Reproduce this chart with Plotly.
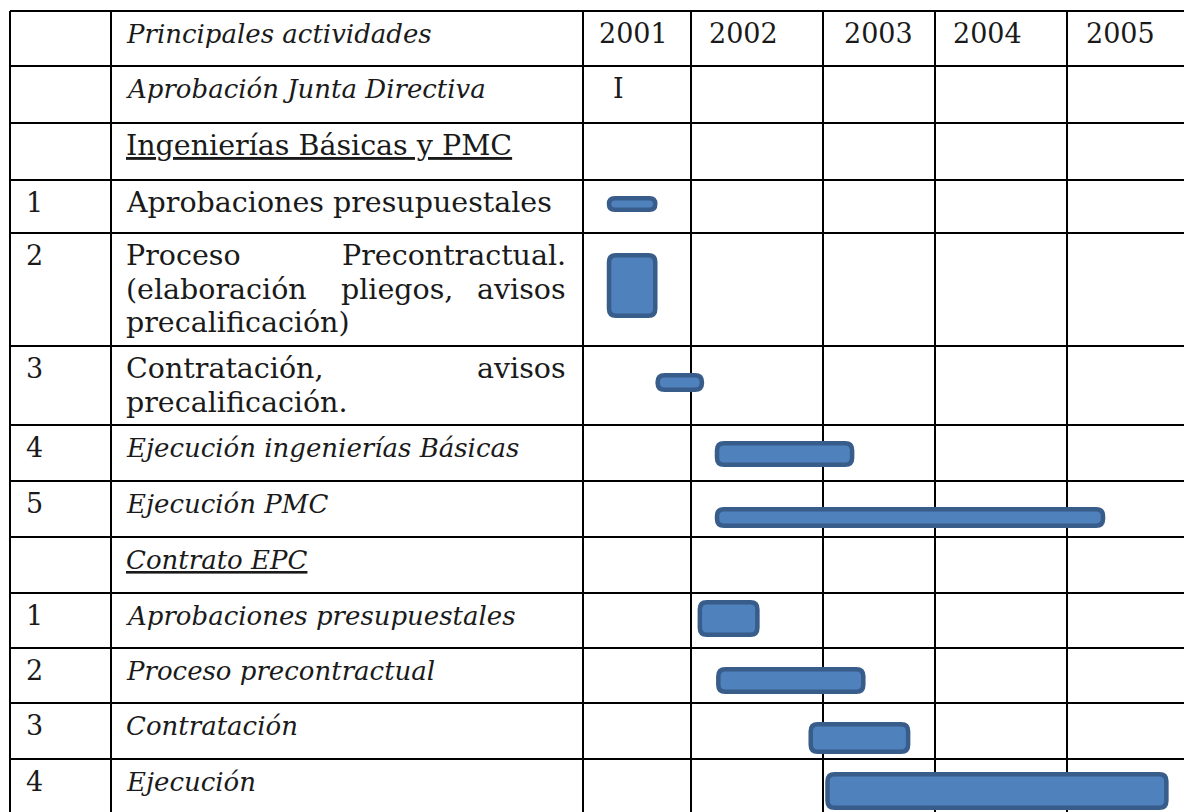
import plotly.graph_objects as go

# ---------------- data ----------------
years = ["2001", "2002", "2003", "2004", "2005"]
row_numbers = ["", "", "", "1", "2", "3", "4", "5", "", "1", "2", "3", "4"]
activities = [
    ["Principales actividades"],
    ["Aprobación Junta Directiva"],
    ["Ingenierías Básicas y PMC"],
    ["Aprobaciones presupuestales"],
    [["Proceso", "Precontractual."], ["(elaboración", "pliegos,", "avisos"], ["precalificación)"]],
    [["Contratación,", "avisos"], ["precalificación."]],
    ["Ejecución ingenierías Básicas"],
    ["Ejecución PMC"],
    ["Contrato EPC"],
    ["Aprobaciones presupuestales"],
    ["Proceso precontractual"],
    ["Contratación"],
    ["Ejecución"],
]
italic_rows = [0, 1, 6, 7, 8, 9, 10, 11, 12]
underline_rows = [2, 8]
milestone_row = 1
milestone_label = "I"
milestone_year = 2001.33

bar_rows = [3, 4, 5, 6, 7, 9, 10, 11, 12]
bar_start = [2001.22, 2001.22, 2001.67, 2002.18, 2002.18, 2002.05, 2002.19, 2002.89, 2003.02]
bar_end = [2001.69, 2001.69, 2002.10, 2003.28, 2005.29, 2002.52, 2003.38, 2003.78, 2005.77]

# ---------------- layout / style ----------------
W, H = 1192, 812
OFF = 8  # page body margin: data units == page pixels
row_edges = [11, 66, 123, 180, 233, 346, 425, 481, 537, 593, 648, 703, 759, 815]
col_edges = [10, 111, 583, 691, 823, 935, 1067, 1199]
bar_thickness = [16, 65, 19, 26, 21, 37, 27, 32, 38]
bar_center_off = [24, 52.5, 36.5, 29, 36.5, 25.5, 32.5, 35, 32]
year_text_off = [14, 16, 19, 16, 17]
FILL = "#4f81bd"
EDGE = "#385d8a"
FONT = "DejaVu Serif"
FS_REG = 28.5
FS_IT = 26
FS_NUM = 27
TXT = "#1a1a1a"
LINE_GAP = 33.5
first_line_off = 22.5


def year_to_x(v):
    k = int(v) - 2001
    frac = v - int(v)
    x0, x1 = col_edges[2 + k], col_edges[3 + k]
    return x0 + frac * (x1 - x0)


def rrect(x0, x1, y0, y1, r):
    r = min(r, (x1 - x0) / 2, (y1 - y0) / 2)
    return (f"M {x0 + r},{y0} L {x1 - r},{y0} Q {x1},{y0} {x1},{y0 + r} "
            f"L {x1},{y1 - r} Q {x1},{y1} {x1 - r},{y1} L {x0 + r},{y1} "
            f"Q {x0},{y1} {x0},{y1 - r} L {x0},{y0 + r} Q {x0},{y0} {x0 + r},{y0} Z")


fig = go.Figure()
fig.add_trace(go.Scatter(x=[OFF, W + OFF], y=[OFF, H + OFF], mode="markers",
                         marker=dict(opacity=0), hoverinfo="skip", showlegend=False))

shapes = []
# table grid
for y in row_edges:
    shapes.append(dict(type="line", xref="x", yref="y", x0=col_edges[0], x1=W + 20,
                       y0=y, y1=y, line=dict(color="#000", width=2)))
for x in col_edges:
    shapes.append(dict(type="line", xref="x", yref="y", x0=x, x1=x,
                       y0=row_edges[0], y1=H + 20, line=dict(color="#000", width=2)))

# gantt bars
sw = 4.5
for i, r in enumerate(bar_rows):
    xa = year_to_x(bar_start[i]) + sw / 2
    xb = year_to_x(bar_end[i]) - sw / 2
    yc = row_edges[r] + bar_center_off[i]
    h = bar_thickness[i]
    ya, yb = yc - h / 2 + sw / 2, yc + h / 2 - sw / 2
    shapes.append(dict(type="path", xref="x", yref="y", path=rrect(xa, xb, ya, yb, 7),
                       fillcolor=FILL, line=dict(color=EDGE, width=sw), layer="above"))

ann = []


def txt(x, y, s, italic=False, anchor="left", underline=False, size=None):
    t = s
    if underline:
        t = f"<u>{t}</u>"
    if italic:
        t = f"<i>{t}</i>"
    if size is None:
        size = FS_IT if italic else FS_REG
    ann.append(dict(x=x, y=y, xref="x", yref="y", text=t, showarrow=False,
                    xanchor=anchor, yanchor="middle",
                    font=dict(family=FONT, size=size, color=TXT)))


text_left = col_edges[1] + 13
text_right = col_edges[2] - 15
for r, lines in enumerate(activities):
    top = row_edges[r]
    it = r in italic_rows
    ul = r in underline_rows
    if row_numbers[r]:
        txt(col_edges[0] + 14, top + first_line_off, row_numbers[r], size=FS_NUM)
    for li, line in enumerate(lines):
        y = top + first_line_off + li * LINE_GAP
        if isinstance(line, str):
            txt(text_left, y, line, it, "left", ul)
        elif len(line) == 1:
            txt(text_left, y, line[0], it)
        elif len(line) == 2:
            txt(text_left, y, line[0], it)
            txt(text_right, y, line[1], it, "right")
        else:
            txt(text_left, y, line[0], it)
            txt((text_left + text_right) / 2 + 51, y, line[1], it, "center")
            txt(text_right, y, line[2], it, "right")

for k, yr in enumerate(years):
    txt(col_edges[2 + k] + year_text_off[k], row_edges[0] + first_line_off, yr, size=FS_NUM)

txt(year_to_x(milestone_year), row_edges[milestone_row] + first_line_off, milestone_label,
    anchor="center", size=FS_NUM)

fig.update_layout(
    width=W, height=H, margin=dict(l=0, r=0, t=0, b=0),
    paper_bgcolor="white", plot_bgcolor="white",
    xaxis=dict(range=[OFF, W + OFF], visible=False, fixedrange=True),
    yaxis=dict(range=[H + OFF, OFF], visible=False, fixedrange=True),
    shapes=shapes, annotations=ann, showlegend=False,
)
fig.write_html("out.html")
